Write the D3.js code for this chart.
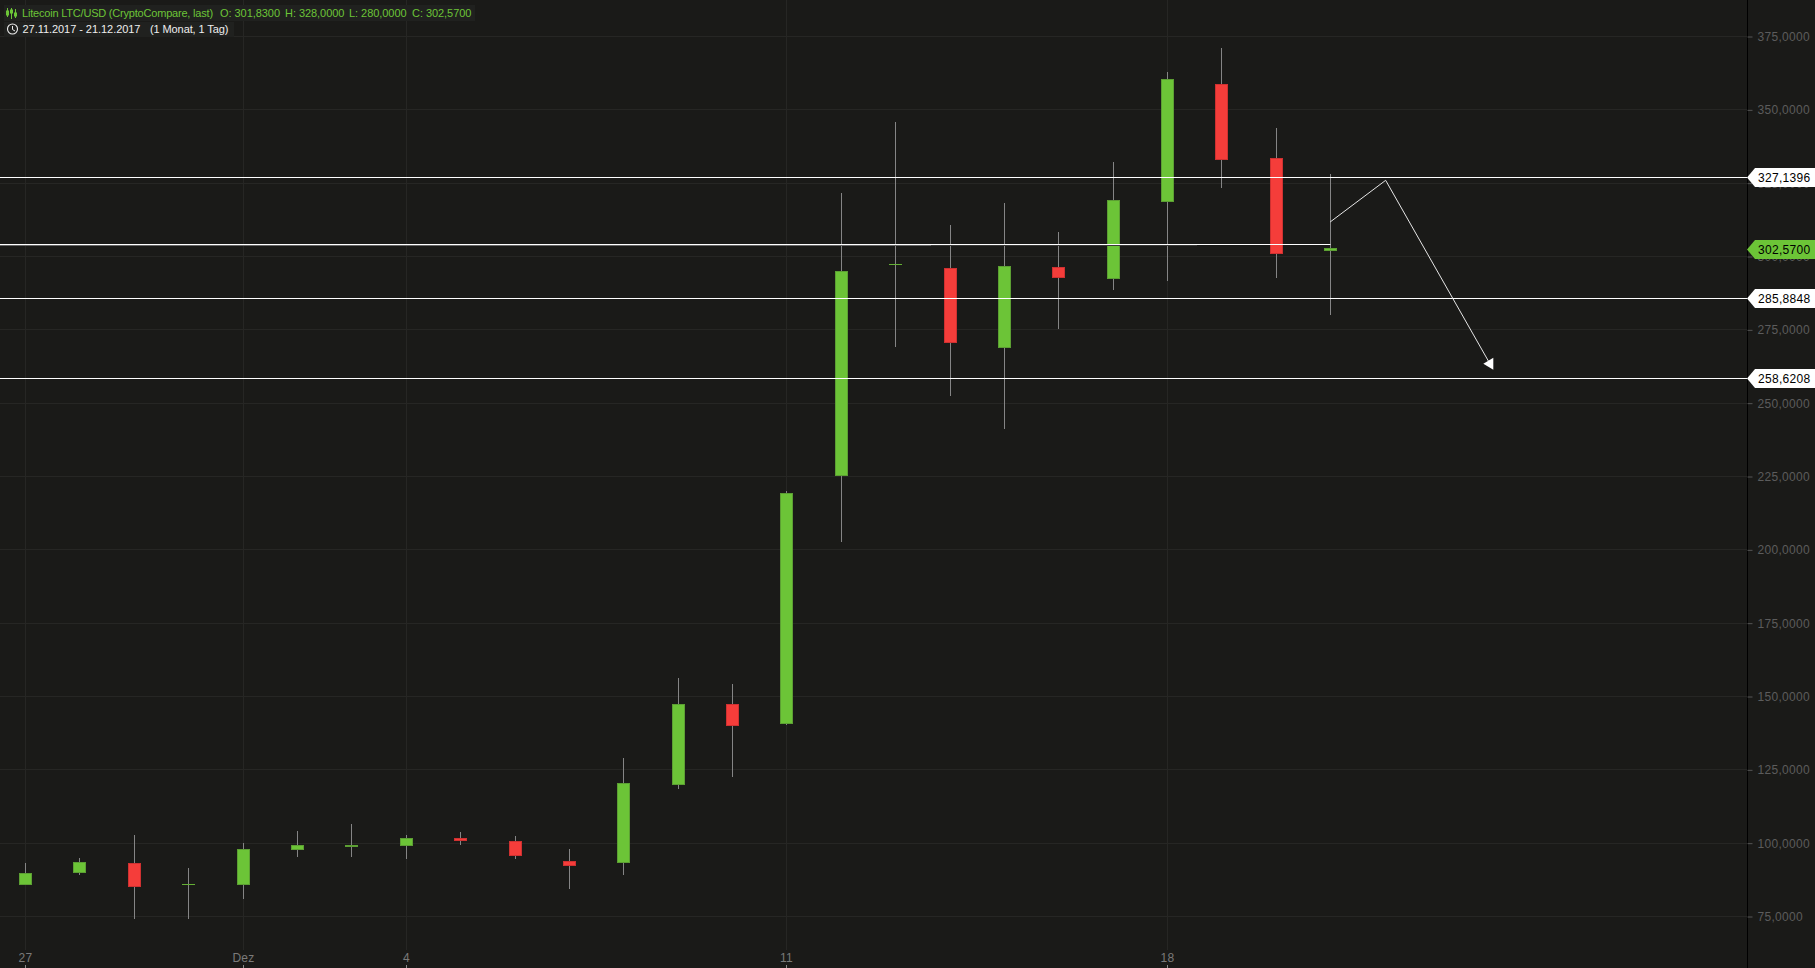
<!DOCTYPE html>
<html><head><meta charset="utf-8">
<script src="https://cdn.jsdelivr.net/npm/d3@7"></script>
<style>
html,body{margin:0;padding:0;background:#1a1a18;overflow:hidden}
svg{display:block}
text{font-family:"Liberation Sans",Arial,sans-serif}
</style></head><body>
<svg id="c" width="1815" height="968"></svg>
<script>
// order: index = trading day since 27.11.2017
const opens  = [85.4,89.5,93.2,85.8,85.7,97.6,98.5,99.0,101.7,100.7,93.9,93.2,119.8,147.4,140.6,225.1,297.0,295.9,268.7,296.3,292.2,318.4,358.6,333.4,301.83];
const highs  = [93.2,94.9,102.7,91.2,100.0,104.1,106.5,102.7,103.8,102.4,98.0,129.0,156.2,154.2,219.8,321.5,345.7,310.6,318.1,308.2,332.1,362.7,370.9,343.7,328];
const lows   = [85.4,89.1,74.1,74.1,80.9,95.2,95.2,94.6,99.3,94.6,84.3,89.1,118.4,122.5,140.2,202.6,269.0,252.3,241.1,275.2,288.4,291.5,323.2,292.5,280];
const closes = [89.8,93.5,85.0,86.0,98.0,99.3,99.3,101.7,100.4,95.6,92.2,120.5,147.4,139.9,219.3,294.9,297.2,270.4,296.6,292.5,319.1,360.3,332.8,300.8,302.57];
const redDays = [2,8,9,10,13,17,19,22,23];
const yTicks = [75,100,125,150,175,200,225,250,275,300,325,350,375];
const xTickIdx = [0,4,7,14,21];
const xTickLabels = ["27","Dez","4","11","18"];
const levels = [327.1396,285.8848,258.6208];
const levelText = ["327,1396","285,8848","258,6208"];
const lastClose = 302.57, lastText = "302,5700";
const supportLevel = 303.9;
const zigI = [24,25.02,27];
const zigV = [311.6,325.8,261.2];
const titleParts = ["Litecoin LTC/USD (CryptoCompare, last)","O: 301,8300","H: 328,0000","L: 280,0000","C: 302,5700"];
const titleX = [22,220,285,349,412];

const BG="#1a1a18",GRID="#262624",GREEN="#6cc437",GREEND="#5c9f33",RED="#f53d3a",REDD="#cf3131",WICK="#858585";
const svg=d3.select("#c");
svg.append("rect").attr("width",1815).attr("height",968).attr("fill",BG);
const x=d3.scaleLinear().domain([0,24]).range([25.1,1330.2]);
const y=d3.scaleLinear().domain([75,375]).range([916,36]);
const px=v=>Math.round(x(v))+.5;
const py=v=>Math.round(y(v))+.5;
const AXX=1747;

// grid
const g=svg.append("g");
g.selectAll("line.h").data(yTicks).join("line").attr("x1",0).attr("x2",AXX)
 .attr("y1",py).attr("y2",py).attr("stroke",GRID);
g.selectAll("line.v").data(xTickIdx).join("line").attr("x1",px).attr("x2",px)
 .attr("y1",0).attr("y2",950).attr("stroke",GRID);

// candles
const days=d3.range(opens.length);
const span=i=>py(Math.min(opens[i],closes[i]))-py(Math.max(opens[i],closes[i]));
const candles=svg.append("g");
candles.selectAll("line").data(days).join("line")
 .attr("x1",px).attr("x2",px).attr("y1",i=>Math.round(y(highs[i]))).attr("y2",i=>Math.round(y(lows[i])))
 .attr("stroke",WICK).attr("stroke-width",1);
candles.selectAll("rect").data(days).join("rect")
 .attr("x",i=>px(i)-6).attr("width",12)
 .attr("y",i=>py(Math.max(opens[i],closes[i])))
 .attr("height",i=>Math.max(.01,span(i)-1))
 .attr("fill",i=>redDays.includes(i)?RED:GREEN)
 .attr("stroke",i=>redDays.includes(i)?REDD:(span(i)<=1?"#64b035":GREEND));

// grey trace under the support line, then white levels
const lv=v=>Math.ceil(y(v))+.5;
const sup=Math.floor(y(supportLevel))+.5;
const ann=svg.append("g");
ann.append("line").attr("x1",0).attr("x2",1197).attr("y1",sup+1).attr("y2",sup+1).attr("stroke","#3a3a38");
ann.append("line").attr("x1",0).attr("x2",931).attr("y1",sup+1).attr("y2",sup+1).attr("stroke","#666");
ann.selectAll("line.l").data(levels).join("line").attr("x1",0).attr("x2",AXX)
 .attr("y1",lv).attr("y2",lv).attr("stroke","#fff");
ann.append("line").attr("x1",0).attr("x2",px(24)).attr("y1",sup).attr("y2",sup).attr("stroke","#fff");

// zigzag forecast
const zig=d3.line().x((d,i)=>x(zigI[i])).y(d=>y(d));
ann.append("path").attr("d",zig(zigV.slice(0,2))).attr("fill","none").attr("stroke","#e6e6e6");
const tip=[x(zigI[2]),y(zigV[2])],from=[x(zigI[1]),y(zigV[1])];
const stem=[tip[0]-4.5,tip[1]-8];
ann.append("path").attr("d",`M${from}L${stem}`).attr("fill","none").attr("stroke","#e6e6e6");
ann.append("polygon").attr("fill","#fff").attr("points",[tip,[tip[0],tip[1]-12],[tip[0]-10,tip[1]-6]].map(p=>p.join(",")).join(" "));

// right axis
svg.append("rect").attr("x",AXX).attr("y",0).attr("width",1).attr("height",968).attr("fill","#000");
const fmt=v=>d3.format(".4f")(v).replace(".",",");
const yAxis=svg.append("g").attr("transform",`translate(${AXX+.5},0.5)`)
 .call(d3.axisRight(y).tickValues(yTicks).tickFormat(fmt).tickSize(5).tickPadding(5));
yAxis.select(".domain").remove();
yAxis.selectAll(".tick line").attr("stroke","#555");
yAxis.selectAll(".tick text").attr("fill","#5c5c5c").style("font-size","12px").style("letter-spacing","0.3px").style("font-family",'"Liberation Sans"');

// x axis
const xAxis=svg.append("g").attr("transform","translate(0,968)")
 .call(d3.axisTop(x).tickValues(xTickIdx).tickFormat((d,i)=>xTickLabels[i]).tickSize(3).tickPadding(3));
xAxis.select(".domain").remove();
xAxis.selectAll(".tick").attr("transform",d=>`translate(${px(d)},0)`);
xAxis.selectAll(".tick line").attr("stroke","#8a8a8a");
xAxis.selectAll(".tick text").attr("fill","#7a7a7a").style("font-size","12px").style("letter-spacing","0.3px").style("font-family",'"Liberation Sans"');

// price flags
function flag(text,fill,t){
 svg.append("polygon").attr("fill",fill).attr("points",[[AXX,t],[AXX+8,t-9.5],[1815,t-9.5],[1815,t+9.5],[AXX+8,t+9.5]].map(p=>p.join(",")).join(" "));
 svg.append("text").attr("x",AXX+11).attr("y",t+4.5).attr("fill","#000").style("font-size","12px").style("letter-spacing","0.3px").text(text);
}
levels.forEach((v,i)=>flag(levelText[i],"#fff",lv(v)));
flag(lastText,GREEN,py(lastClose)+1);

// header
svg.append("rect").attr("x",4).attr("y",5).attr("width",471).attr("height",16).attr("fill","#20211f");
svg.append("rect").attr("x",4).attr("y",22).attr("width",230).attr("height",15).attr("fill","#20211f");
const tg=svg.append("g").style("font-size","11px");
tg.selectAll("text.t").data(titleParts).join("text").attr("x",(d,i)=>titleX[i]).attr("y",17).attr("fill",GREEN)
 .style("letter-spacing",(d,i)=>i===0?"-0.2px":"-0.05px").text(d=>d);
tg.append("text").attr("x",22.5).attr("y",33).attr("fill","#eee").style("letter-spacing","-0.05px").text("27.11.2017 - 21.12.2017");
tg.append("text").attr("x",150).attr("y",33).attr("fill","#eee").style("letter-spacing","-0.1px").text("(1 Monat, 1 Tag)");
// icons
const ic=svg.append("g").attr("fill","none").attr("stroke",GREEN);
[[7.5,8,17,11,15],[11.5,8,19,10,13],[15.5,9,18,13,16]].forEach(a=>{
 ic.append("line").attr("x1",a[0]).attr("x2",a[0]).attr("y1",a[1]).attr("y2",a[2]);
 ic.append("rect").attr("x",a[0]-1).attr("y",a[3]).attr("width",2).attr("height",a[4]-a[3]).attr("fill",GREEN);
});
svg.append("circle").attr("cx",12.5).attr("cy",29).attr("r",5).attr("fill","none").attr("stroke","#eee").attr("stroke-width",1.1);
svg.append("path").attr("d","M12.5 26V29.5L15 31").attr("fill","none").attr("stroke","#eee");
</script></body></html>
